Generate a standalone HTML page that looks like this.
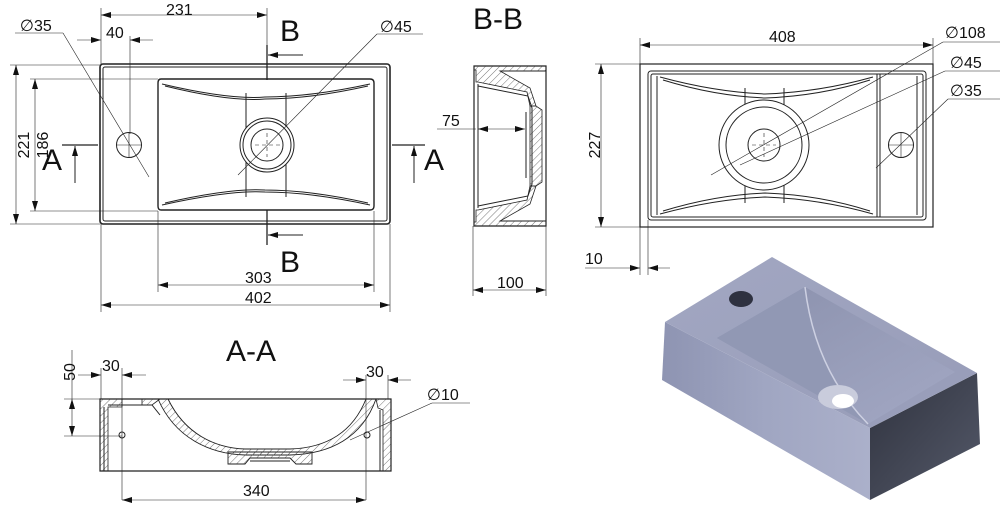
<!DOCTYPE html>
<html><head><meta charset="utf-8"><style>
html,body{margin:0;padding:0;background:#fff}
svg{display:block}
text{font-family:"Liberation Sans","DejaVu Sans",sans-serif;fill:#111}
</style></head><body>
<svg width="1000" height="506" viewBox="0 0 1000 506" xmlns="http://www.w3.org/2000/svg">
<defs>
<pattern id="h" width="5" height="5" patternUnits="userSpaceOnUse" patternTransform="rotate(45)">
<line x1="0" y1="0" x2="0" y2="5" stroke="#555" stroke-width="0.8"/></pattern>
<marker id="a" viewBox="0 0 10 6" refX="10" refY="3" markerWidth="10" markerHeight="6" orient="auto-start-reverse" markerUnits="userSpaceOnUse">
<path d="M0,0 L10,3 L0,6 z" fill="#111"/></marker>
<linearGradient id="g1" x1="0" y1="0" x2="1" y2="1"><stop offset="0" stop-color="#a2a7c2"/><stop offset="1" stop-color="#979cb8"/></linearGradient>
<linearGradient id="g3" x1="0" y1="0" x2="1" y2="1"><stop offset="0" stop-color="#2f323e"/><stop offset="1" stop-color="#555a6a"/></linearGradient>
<linearGradient id="g4" x1="0" y1="0" x2="1" y2="0"><stop offset="0" stop-color="#8e94b2"/><stop offset="0.5" stop-color="#a0a6c2"/><stop offset="1" stop-color="#abb0ca"/></linearGradient>
<linearGradient id="g5" x1="0" y1="0" x2="1" y2="1"><stop offset="0" stop-color="#8a90ac"/><stop offset="1" stop-color="#a3a8c4"/></linearGradient>
</defs>

<g fill="none" stroke="#222" stroke-width="1">
<!-- TOP VIEW LEFT -->
<rect x="100" y="64" width="290" height="160" rx="3" stroke-width="1.6"/>
<rect x="103" y="67" width="284" height="154" rx="2"/>
<path d="M161,79 H370 Q374,79 374,83 V206 Q374,210 370,210 H161 Q158,210 158,206 V83 Q158,79 161,79z" stroke-width="1.4"/>
<path d="M162,84 Q230,100 265,97 Q310,97 370,84"/>
<path d="M165,86 Q230,102 265,99 Q310,99 368,86"/>
<path d="M162,205 Q230,190 265,192 Q310,192 370,205"/>
<path d="M165,203 Q230,188 265,190 Q310,190 368,203"/>
<line x1="246" y1="93" x2="246" y2="197"/><line x1="286" y1="93" x2="286" y2="197"/>
<circle cx="267" cy="145" r="27" fill="#fff"/><circle cx="267" cy="145" r="24"/><circle cx="267" cy="145" r="16"/>
<circle cx="129" cy="145" r="12.5"/>
<g stroke-width="0.6" stroke-dasharray="4,3"><line x1="255" y1="145" x2="280" y2="145"/><line x1="267" y1="133" x2="267" y2="157"/></g>
<g stroke-width="0.6"><line x1="117" y1="145" x2="142" y2="145"/><line x1="129" y1="133" x2="129" y2="157"/></g>
<g stroke-width="0.6">
<line x1="101" y1="8" x2="101" y2="64"/><line x1="267" y1="8" x2="267" y2="45"/>
<line x1="101" y1="15" x2="267" y2="15" marker-start="url(#a)" marker-end="url(#a)"/>
<line x1="77" y1="40" x2="101" y2="40" marker-end="url(#a)"/>
<line x1="130" y1="36" x2="130" y2="134"/><line x1="153" y1="40" x2="130" y2="40" marker-end="url(#a)"/>
<line x1="15" y1="33" x2="63" y2="33"/><line x1="63" y1="33" x2="149" y2="177"/>
<line x1="377" y1="34" x2="423" y2="34"/><line x1="377" y1="34" x2="238" y2="175"/>
<line x1="10" y1="65" x2="100" y2="65"/><line x1="10" y1="224" x2="100" y2="224"/>
<line x1="16" y1="65" x2="16" y2="224" marker-start="url(#a)" marker-end="url(#a)"/>
<line x1="30" y1="79" x2="158" y2="79"/><line x1="30" y1="211" x2="158" y2="211"/>
<line x1="35" y1="79" x2="35" y2="211" marker-start="url(#a)" marker-end="url(#a)"/>
<line x1="158" y1="211" x2="158" y2="292"/><line x1="374" y1="211" x2="374" y2="292"/>
<line x1="158" y1="285" x2="374" y2="285" marker-start="url(#a)" marker-end="url(#a)"/>
<line x1="101" y1="224" x2="101" y2="312"/><line x1="390" y1="224" x2="390" y2="312"/>
<line x1="101" y1="305" x2="390" y2="305" marker-start="url(#a)" marker-end="url(#a)"/>
</g>
<g stroke-width="1.3">
<line x1="267" y1="45" x2="267" y2="80"/><line x1="267" y1="210" x2="267" y2="245"/>
<line x1="62" y1="145" x2="98" y2="145"/><line x1="392" y1="145" x2="425" y2="145"/>
</g>
<g stroke-width="1">
<line x1="303" y1="55" x2="268" y2="55" marker-end="url(#a)"/>
<line x1="303" y1="235" x2="268" y2="235" marker-end="url(#a)"/>
<line x1="75" y1="183" x2="75" y2="146" marker-end="url(#a)"/>
<line x1="414" y1="183" x2="414" y2="146" marker-end="url(#a)"/>
</g>

<!-- B-B -->
<path d="M474,66 H546 V226 H474 Z" stroke-width="1.2"/>
<path d="M474,66 H546 V71 H500 L530,88 L536,106 H530 L527,92 L478,82 H476 V70 H474 Z" fill="url(#h)" stroke-width="0.8"/>
<path d="M474,226 H546 V221 H500 L530,204 L536,186 H530 L527,200 L478,210 H476 V222 H474 Z" fill="url(#h)" stroke-width="0.8"/>
<path d="M530,106 H536 L542,110 V182 L536,186 H530 Z" fill="url(#h)" stroke-width="0.8"/>
<path d="M500,71 L546,71 M500,221 L546,221" />
<path d="M478,86 L528,96 L532,108 V184 L528,196 L478,206"/>
<line x1="478" y1="84" x2="478" y2="208"/>
<line x1="526" y1="112" x2="526" y2="178"/>
<g stroke-width="0.6">
<line x1="437" y1="129" x2="476" y2="129"/><line x1="478" y1="129" x2="525" y2="129" marker-start="url(#a)" marker-end="url(#a)"/>
<line x1="473" y1="226" x2="473" y2="296"/><line x1="546" y1="226" x2="546" y2="296"/>
<line x1="473" y1="290" x2="546" y2="290" marker-start="url(#a)" marker-end="url(#a)"/>
</g>

<!-- RIGHT TOP VIEW -->
<rect x="640" y="64" width="293" height="163" stroke-width="1.2"/>
<rect x="648" y="71" width="278" height="149" rx="3"/>
<rect x="651" y="74" width="272" height="143" rx="2"/>
<line x1="657" y1="76" x2="657" y2="215"/>
<line x1="877" y1="74" x2="877" y2="217"/><line x1="880" y1="74" x2="880" y2="217"/>
<line x1="917" y1="76" x2="917" y2="215"/>
<path d="M660,77 Q715,92 765,94 Q820,92 873,77"/>
<path d="M663,80 Q715,96 765,98 Q820,96 870,80"/>
<path d="M660,214 Q715,199 765,197 Q820,199 873,214"/>
<path d="M663,211 Q715,195 765,193 Q820,195 870,211"/>
<line x1="745" y1="88" x2="745" y2="203"/><line x1="784" y1="88" x2="784" y2="203"/>
<circle cx="764" cy="145" r="45" fill="#fff"/><circle cx="764" cy="145" r="38"/><circle cx="764" cy="145" r="16"/>
<circle cx="901" cy="145" r="12.5"/>
<g stroke-width="0.6"><line x1="889" y1="145" x2="913" y2="145"/><line x1="901" y1="133" x2="901" y2="157"/>
<line x1="752" y1="145" x2="776" y2="145" stroke-dasharray="4,3"/><line x1="764" y1="133" x2="764" y2="157" stroke-dasharray="4,3"/>
<line x1="640" y1="38" x2="640" y2="64"/><line x1="933" y1="38" x2="933" y2="64"/>
<line x1="640" y1="45" x2="933" y2="45" marker-start="url(#a)" marker-end="url(#a)"/>
<line x1="595" y1="64" x2="640" y2="64"/><line x1="595" y1="227" x2="640" y2="227"/>
<line x1="601" y1="64" x2="601" y2="227" marker-start="url(#a)" marker-end="url(#a)"/>
<line x1="640" y1="227" x2="640" y2="275"/><line x1="648" y1="220" x2="648" y2="275"/>
<line x1="585" y1="268" x2="640" y2="268" marker-end="url(#a)"/><line x1="670" y1="268" x2="648" y2="268" marker-end="url(#a)"/>
<line x1="943" y1="42" x2="1000" y2="42"/><line x1="943" y1="42" x2="711" y2="175"/>
<line x1="945" y1="71" x2="1000" y2="71"/><line x1="945" y1="71" x2="740" y2="165"/>
<line x1="948" y1="99" x2="1000" y2="99"/><line x1="948" y1="99" x2="876" y2="168"/>
</g>

<!-- A-A -->
<path d="M100,399 H391 V471 H100 Z" stroke-width="1.2"/>
<path d="M100,399 H122 V407 H108 V471 H100 Z" fill="url(#h)" stroke-width="0.8"/>
<path d="M142,399 H160 L152,405 H142 Z" fill="url(#h)" stroke-width="0.8"/>
<path d="M158,399 C175,438 210,454 245,455 L290,455 C330,454 362,438 376,399 H366 C352,434 325,448 290,449 L245,449 C215,448 185,434 168,399 Z" fill="url(#h)" stroke-width="0.9"/>
<path d="M228,452 V464 H245 L250,458 H290 L296,464 H312 V452 Z" fill="url(#h)" stroke-width="0.9"/>
<path d="M376,399 H391 V471 H383 V410 L378,408 Z" fill="url(#h)" stroke-width="0.8"/>
<path d="M108,405 H152 L160,415"/>
<line x1="104" y1="407" x2="104" y2="471"/><line x1="380" y1="410" x2="380" y2="471"/>
<line x1="250" y1="461" x2="290" y2="461"/>
<circle cx="122" cy="435" r="3"/><circle cx="367" cy="435" r="3"/>
<g stroke-width="0.6">
<line x1="64" y1="399" x2="100" y2="399"/><line x1="64" y1="436" x2="122" y2="436"/>
<line x1="72" y1="399" x2="72" y2="436" marker-start="url(#a)" marker-end="url(#a)"/>
<line x1="72" y1="350" x2="72" y2="399"/>
<line x1="101" y1="368" x2="101" y2="399"/><line x1="122" y1="368" x2="122" y2="500"/>
<line x1="78" y1="375" x2="101" y2="375" marker-end="url(#a)"/><line x1="146" y1="375" x2="122" y2="375" marker-end="url(#a)"/>
<line x1="366" y1="375" x2="366" y2="500"/><line x1="388" y1="375" x2="388" y2="399"/>
<line x1="343" y1="380" x2="366" y2="380" marker-end="url(#a)"/><line x1="411" y1="380" x2="388" y2="380" marker-end="url(#a)"/>
<line x1="122" y1="500" x2="366" y2="500" marker-start="url(#a)" marker-end="url(#a)"/>
<line x1="432" y1="403" x2="470" y2="403"/><line x1="432" y1="403" x2="350" y2="440"/>
</g>
</g>

<!-- ISOMETRIC -->
<polygon points="665,322 870,428 870,500 662,380" fill="url(#g4)"/>
<polygon points="870,428 977,373 980,444 870,500" fill="url(#g3)"/>
<polygon points="772,257 977,373 870,428 665,322" fill="url(#g1)"/>
<polygon points="717,338 805,287 955,372 868,424" fill="url(#g5)"/>
<path d="M805,287 Q815,370 868,424 L717,338 Z" fill="#9198b4"/>
<path d="M805,287 Q815,370 868,424" fill="none" stroke="#cdd0e2" stroke-width="1.5"/>
<ellipse cx="741" cy="299" rx="12" ry="8" fill="#2e3140"/>
<ellipse cx="838" cy="397" rx="20" ry="12" fill="#c9ccdc"/>
<ellipse cx="843" cy="401" rx="11" ry="7" fill="#fff"/>

<!-- TEXT -->
<g font-size="16">
<text x="166" y="15">231</text>
<text x="106" y="38">40</text>
<text x="20" y="31">∅35</text>
<text x="380" y="32">∅45</text>
<text x="245" y="283">303</text>
<text x="245" y="303">402</text>
<text x="14" y="160" transform="rotate(-90 14 145)" text-anchor="middle">221</text>
<text x="33" y="160" transform="rotate(-90 33 145)" text-anchor="middle">186</text>
<text x="442" y="126">75</text>
<text x="497" y="288">100</text>
<text x="769" y="42">408</text>
<text x="945" y="38">∅108</text>
<text x="950" y="68">∅45</text>
<text x="950" y="96">∅35</text>
<text x="596" y="145" transform="rotate(-90 596 145)" text-anchor="middle" dominant-baseline="middle">227</text>
<text x="585" y="264">10</text>
<text x="63" y="384" transform="rotate(-90 63 372)" text-anchor="middle">50</text>
<text x="102" y="371">30</text>
<text x="366" y="377">30</text>
<text x="427" y="400">∅10</text>
<text x="243" y="496">340</text>
</g>
<g font-size="30">
<text x="280" y="41">B</text>
<text x="280" y="272">B</text>
<text x="42" y="170">A</text>
<text x="424" y="170">A</text>
<text x="473" y="29">B-B</text>
<text x="226" y="361">A-A</text>
</g>
</svg>
</body></html>
